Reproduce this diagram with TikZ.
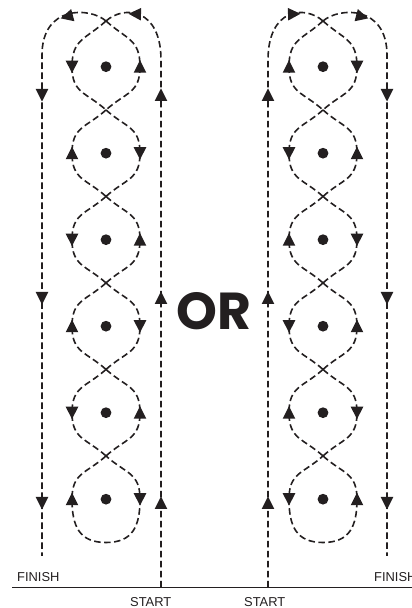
\documentclass[tikz,border=0pt]{standalone}
\usepackage{fontspec}
\newfontfamily\labelfont{Liberation Sans}
\newfontfamily\orfont{Poppins}
\usetikzlibrary{positioning}
\definecolor{ink}{RGB}{35,31,32}
\tikzset{
  trail/.style={dash pattern=on 6.5pt off 3.5pt, line width=1.6pt, color=ink},
  loopy/.style={looseness=1.25},
  ground/.style={line width=1.5pt, color=ink},
  tag/.style={font=\labelfont\fontsize{12.9}{15}\selectfont, inner sep=0pt,
    anchor=base west, text=ink},
  bigword/.style={font=\orfont\bfseries\fontsize{52}{60}\selectfont,
    inner sep=0pt, anchor=base, text=ink}
}
% filled arrowhead at #1, pointing at angle #2
\newcommand{\arrowhead}[2]{%
  \fill[ink, shift={#1}, rotate=#2] (6.5,0) -- (-6,6.3) -- (-6,-6.3) -- cycle;}
% one weave: up the right line, down the figure eight, back up, down the left line
\newcommand{\weave}{%
  \foreach \k in {1,...,6} {
    \pgfmathsetmacro\d{541.3-86.5*(\k-1)}
    \coordinate (D\k) at (106,\d);
    \coordinate (L\k) at (72,\d);
    \coordinate (R\k) at (140,\d);
    \coordinate (C\k) at (106,\d-43.25);
  }
  \coordinate (C0) at (106,587);
  \coordinate (B) at (106,65.5);
  \coordinate (start) at (161,20.5);
  \coordinate (finish) at (42,52);
  % loops
  \foreach \k in {1,...,5} {
    \pgfmathtruncatemacro\p{\k-1}
    \draw[trail, loopy] (C\p) to[out=222,in=90] (L\k) to[out=270,in=138] (C\k);
    \draw[trail, loopy] (C\p) to[out=318,in=90] (R\k) to[out=270,in=42] (C\k);
  }
  \draw[trail, loopy] (C5) to[out=222,in=90] (L6) to[out=270,in=180] (B)
    to[out=0,in=270] (R6) to[out=90,in=318] (C5);
  % outer lines with the turns at the top
  \draw[trail] (start) -- (161,548) .. controls (161,600) and (124,603) .. (C0);
  \draw[trail] (C0) .. controls (90,601) and (42,603) .. (42,553) -- (finish);
  % arrowheads
  \arrowhead{(135,594)}{178}
  \arrowhead{(67,591.3)}{195}
  \foreach \y in {513,310,105} {
    \arrowhead{(42,\y)}{-90}
    \arrowhead{(161,\y)}{90}
  }
  \foreach \k in {1,3,5} {
    \arrowhead{(L\k)}{-90}
    \arrowhead{(R\k)}{90}
  }
  \foreach \k in {2,4,6} {
    \arrowhead{(L\k)}{90}
    \arrowhead{(R\k)}{-90}
  }
  % posts
  \foreach \k in {1,...,6} \fill[ink] (D\k) circle (5.4);
}

\begin{document}
\begin{tikzpicture}[x=1pt, y=1pt]
  \useasboundingbox (0,0) rectangle (412,608);
  \clip (0,0) rectangle (412,608);

  % left pattern
  \begin{scope}
    \weave
  \end{scope}
  % right pattern, mirrored
  \begin{scope}[xshift=429pt, xscale=-1]
    \weave
  \end{scope}

  % ground line and labels
  \coordinate (g1) at (12,20.5);
  \coordinate (g2) at (412,20.5);
  \draw[ground] (g1) -- (g2);
  \node[tag] (finishL) at (17,26) {FINISH};
  \node[tag] (startL) at (130,1.3) {START};
  \node[tag] (startR) at (244,1.3) {START};
  \node[tag] (finishR) at (374,26) {FINISH};
  \node[bigword] (or) at (214,278) {OR};
\end{tikzpicture}
\end{document}
